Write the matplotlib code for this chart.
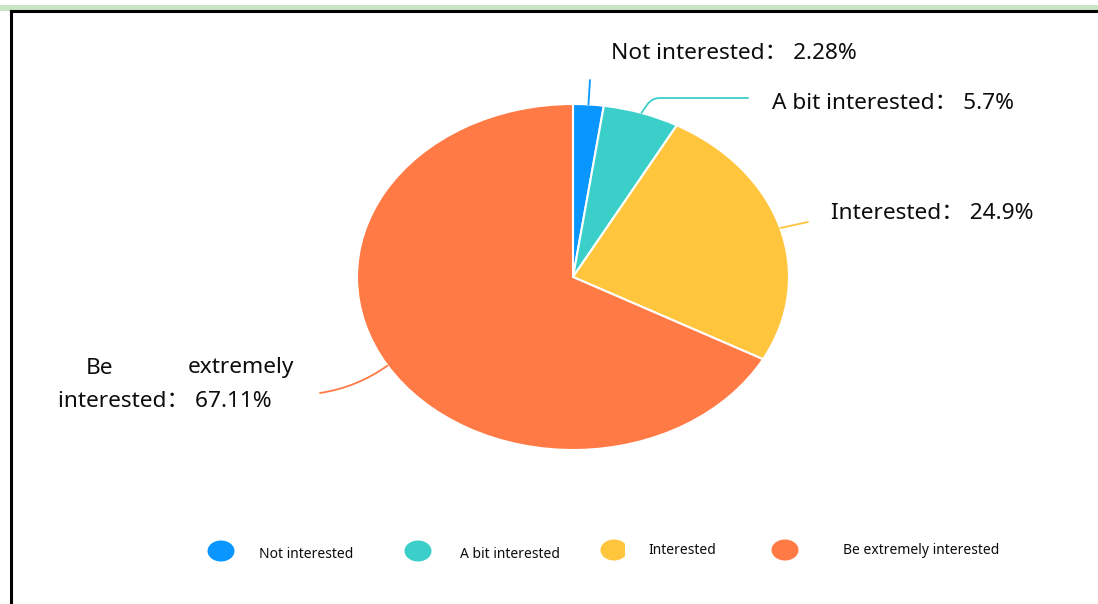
import matplotlib.pyplot as plt
import numpy as np
from matplotlib.patches import Ellipse, Rectangle

plt.rcParams['font.family'] = ['Noto Sans', 'Noto Sans CJK SC', 'DejaVu Sans']

# survey answers, clockwise from 12 o'clock
categories = ['Not interested', 'A bit interested', 'Interested', 'Be extremely interested']
shares = [2.28, 5.7, 24.9, 67.11]
colors = ['#0A96FF', '#3AD0C9', '#FFC53D', '#FF7A45']

W, H = 1098, 604
fig = plt.figure(figsize=(W / 100, H / 100), dpi=100)

# full-figure layer in pixel units for frame, labels and legend
over = fig.add_axes([0, 0, 1, 1])
over.set_xlim(0, W)
over.set_ylim(H, 0)
over.axis('off')

# frame: green strip on top, black rule top and left
over.add_patch(Rectangle((0, 5), W, 5.5, color='#C8E6C3', lw=0))
over.plot([11, W], [11, 11], color='black', lw=2.2)
over.plot([11, 11], [11, H], color='black', lw=2.2)

# pie drawn in an axes with free aspect, so it comes out as an ellipse
cx, cy, rx, ry = 573, 277, 216, 173
ax = fig.add_axes([(cx - rx) / W, (H - cy - ry) / H, 2 * rx / W, 2 * ry / H])
wedges, _ = ax.pie(shares, colors=colors, startangle=90, counterclock=False,
                   wedgeprops=dict(edgecolor='white', linewidth=1.5))
ax.set_xlim(-1, 1)
ax.set_ylim(-1, 1)
ax.set_aspect('auto')
ax.axis('off')

# leader lines from the middle of each wedge rim to its label
ends = [(590, 80), (748, 98), (808, 222), (320, 393)]
styles = ['arc3,rad=0', 'angle,angleA=0,angleB=55,rad=8', 'arc3,rad=0', 'arc3,rad=0.12']
for w, end, cs, c in zip(wedges, ends, styles, colors):
    mid = np.deg2rad((w.theta1 + w.theta2) / 2)
    start = (np.cos(mid), np.sin(mid))
    ax.annotate('', xy=start, xycoords='data', xytext=end, textcoords=over.transData,
                arrowprops=dict(arrowstyle='-', color=c, lw=1.3, connectionstyle=cs,
                                shrinkA=0, shrinkB=0))

fs = 16.3
tc = '#0d0d0d'
over.text(611, 53, f'{categories[0]}： {shares[0]}%', fontsize=fs, color=tc, va='center')
over.text(772, 103, f'{categories[1]}： {shares[1]}%', fontsize=fs, color=tc, va='center')
over.text(831, 213, f'{categories[2]}： {shares[2]}%', fontsize=fs, color=tc, va='center')
over.text(86, 368, 'Be', fontsize=fs, color=tc, va='center')
over.text(294, 368, 'extremely', fontsize=fs, color=tc, va='center', ha='right')
over.text(58, 401, f'interested： {shares[3]}%', fontsize=fs, color=tc, va='center')

# legend row
marks = [(221, 551), (418, 551), (614, 550), (785, 550)]
texts = [(259, 554), (460, 554), (648, 550), (843, 550)]
for name, c, (mx, my), (tx, ty) in zip(categories, colors, marks, texts):
    e = Ellipse((mx, my), 27, 21, color=c, lw=0)
    over.add_patch(e)
    if name == 'Interested':
        clip = Rectangle((mx - 20, my - 20), 31, 40, transform=over.transData)
        e.set_clip_path(clip)
    over.text(tx, ty, name, fontsize=10, color=tc, va='center')

fig.savefig('out.png', dpi=100)
